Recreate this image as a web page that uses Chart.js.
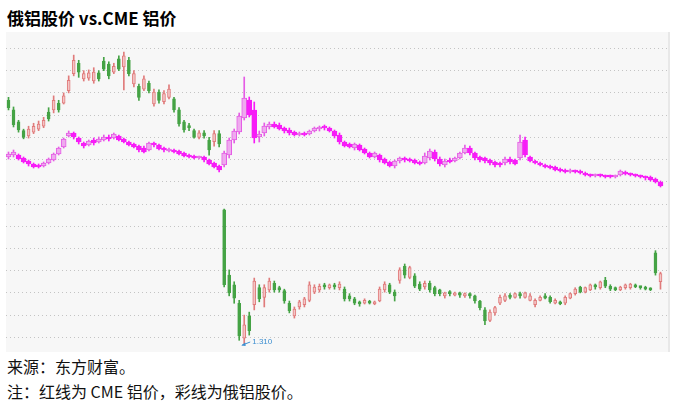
<!DOCTYPE html>
<html>
<head>
<meta charset="utf-8">
<script src="https://cdn.jsdelivr.net/npm/chart.js@4.4.0/dist/chart.umd.min.js"></script>
<style>
  body { margin: 0; width: 675px; height: 406px; position: relative; overflow: hidden; background: #fff; font-family: "Noto Sans CJK SC", sans-serif; color: #000; }
  #title { position: absolute; left: 7px; top: 9px; font-size: 17px; line-height: 17px; font-weight: bold; white-space: nowrap; }
  #plot { position: absolute; left: 6px; top: 32px; width: 662px; height: 320px; background: #f7f7f7; border-right: 2px solid #e8e8e8; }
  .foot { position: absolute; left: 7px; font-size: 16px; line-height: 16px; white-space: nowrap; color: #111; }
</style>
</head>
<body>
<div id="title">俄铝股价 vs.CME 铝价</div>
<div id="plot"><canvas id="chart"></canvas></div>
<div class="foot" style="top:358px">来源：东方财富。</div>
<div class="foot" style="top:383px">注：红线为 CME 铝价，彩线为俄铝股价。</div>

<script>
// 俄铝股价 (港元) 开高低收
const stockOpen = [
  4.60,4.47,4.31,4.19,4.12,4.17,4.21,4.25,4.44,4.47,
  4.56,4.56,4.73,4.96,5.10,4.89,4.90,4.86,4.97,5.13,
  5.09,4.98,5.16,5.05,5.14,4.82,4.79,4.75,4.83,4.55,
  4.71,4.58,4.64,4.62,4.47,4.31,4.25,4.19,4.10,4.16,
  4.06,4.04,4.15,3.12,2.24,2.11,1.86,1.39,1.69,1.84,
  2.07,1.94,2.04,2.13,2.07,2.03,1.86,1.69,1.81,1.84,
  1.90,2.01,2.04,2.11,2.07,2.11,2.07,2.05,1.96,1.92,
  1.88,1.86,1.89,1.85,1.89,2.04,2.11,2.01,2.17,2.36,
  2.21,2.23,2.12,2.08,2.13,2.07,2.04,1.96,2.00,1.97,
  2.00,1.96,1.99,1.96,1.89,1.77,1.63,1.73,1.86,1.90,
  1.96,1.94,1.99,1.94,1.90,1.84,1.90,1.96,1.94,1.86,
  1.88,1.86,1.93,1.99,2.08,2.01,2.04,2.11,2.07,2.17,
  2.09,2.07,2.04,2.07,2.07,2.11,2.08,2.08,2.05,2.54,
  2.15
];
const stockHigh = [
  4.64,4.51,4.33,4.21,4.25,4.29,4.32,4.37,4.50,4.66,
  4.60,4.70,4.93,5.21,5.14,5.00,5.01,5.04,5.00,5.18,
  5.12,5.10,5.20,5.25,5.18,5.00,4.82,4.93,4.86,4.75,
  4.74,4.73,4.81,4.64,4.50,4.33,4.29,4.21,4.19,4.19,
  4.10,4.19,4.19,3.13,2.31,2.15,1.90,1.70,1.74,2.20,
  2.11,2.11,2.20,2.16,2.09,2.05,1.89,1.81,1.90,1.94,
  2.15,2.11,2.12,2.13,2.12,2.13,2.15,2.08,1.99,1.94,
  1.89,1.92,1.90,1.89,2.08,2.15,2.13,2.04,2.34,2.39,
  2.36,2.26,2.15,2.16,2.16,2.09,2.05,2.01,2.03,2.01,
  2.01,2.00,2.00,1.97,1.90,1.80,1.77,1.82,1.97,1.99,
  1.99,2.00,2.01,2.01,1.99,1.92,1.96,1.99,1.96,1.92,
  1.89,1.96,2.00,2.07,2.09,2.08,2.12,2.12,2.16,2.21,
  2.11,2.08,2.09,2.12,2.13,2.12,2.09,2.09,2.07,2.57,
  2.28
];
const stockLow = [
  4.47,4.24,4.17,4.08,4.09,4.15,4.19,4.23,4.32,4.43,
  4.44,4.55,4.70,4.93,4.91,4.86,4.87,4.83,4.86,5.00,
  4.89,4.96,5.00,4.74,4.93,4.78,4.60,4.73,4.70,4.52,
  4.56,4.55,4.62,4.44,4.25,4.17,4.19,4.09,4.08,4.09,
  3.86,3.98,3.97,2.08,1.96,1.86,1.36,1.31,1.43,1.77,
  1.88,1.81,2.01,2.01,2.01,1.86,1.73,1.66,1.78,1.81,
  1.88,1.99,2.01,2.05,2.05,2.05,2.04,1.89,1.89,1.84,
  1.82,1.85,1.85,1.84,1.88,2.01,1.99,1.89,2.13,2.20,
  2.19,2.07,2.03,2.05,2.01,1.96,1.96,1.93,1.96,1.96,
  1.94,1.94,1.93,1.86,1.77,1.57,1.61,1.70,1.84,1.88,
  1.92,1.93,1.93,1.93,1.89,1.81,1.89,1.92,1.86,1.85,
  1.84,1.84,1.92,1.97,2.00,2.00,2.03,2.05,2.05,2.07,
  2.03,2.03,2.03,2.05,2.05,2.07,2.05,2.04,2.03,2.24,
  2.05
];
const stockClose = [
  4.50,4.27,4.20,4.10,4.21,4.25,4.28,4.33,4.35,4.60,
  4.47,4.66,4.87,5.14,4.98,4.96,4.97,4.98,4.89,5.02,
  4.93,5.06,5.02,5.20,4.96,4.96,4.64,4.89,4.73,4.71,
  4.60,4.69,4.75,4.47,4.28,4.20,4.23,4.10,4.16,4.12,
  3.93,4.15,4.01,2.11,2.00,1.93,1.42,1.57,1.49,2.16,
  1.92,2.07,2.16,2.04,2.04,1.89,1.76,1.78,1.88,1.92,
  2.11,2.08,2.09,2.08,2.11,2.08,2.12,1.92,1.92,1.86,
  1.85,1.90,1.86,1.88,2.05,2.12,2.01,1.96,2.31,2.24,
  2.34,2.09,2.05,2.13,2.04,1.99,1.99,2.00,1.99,2.00,
  1.97,1.99,1.96,1.89,1.80,1.62,1.74,1.80,1.94,1.96,
  1.94,1.99,1.96,2.00,1.96,1.90,1.94,1.93,1.88,1.90,
  1.85,1.94,1.99,2.05,2.01,2.07,2.11,2.08,2.15,2.09,
  2.05,2.04,2.08,2.11,2.12,2.08,2.07,2.05,2.04,2.27,
  2.26
];

// CME 铝价 (美元/吨) 开高低收
const cmeOpen = [
  2024,2040,2040,2016,1992,1968,1960,1952,1976,2000,
  2048,2104,2192,2216,2176,2136,2120,2160,2144,2160,
  2184,2176,2192,2168,2144,2128,2112,2096,2080,2136,
  2120,2096,2072,2080,2072,2056,2040,2032,2016,2024,
  2000,1976,1952,1960,2040,2160,2224,2336,2480,2400,
  2184,2216,2264,2288,2280,2256,2240,2224,2200,2216,
  2208,2232,2248,2272,2256,2232,2200,2144,2128,2096,
  2120,2088,2056,2024,2040,2008,1984,1952,1992,2016,
  2008,2000,1984,1976,2016,2064,2008,1960,2000,1992,
  2016,2056,2096,2056,2024,2016,2000,1984,1976,1976,
  2008,2000,2016,2160,2024,1992,1976,1960,1952,1944,
  1928,1920,1904,1912,1912,1896,1880,1872,1880,1872,
  1872,1864,1880,1904,1888,1880,1872,1864,1864,1848,
  1824
];
const cmeHigh = [
  2064,2080,2048,2024,2000,1976,1968,1984,2016,2056,
  2104,2176,2232,2224,2184,2144,2160,2176,2184,2200,
  2200,2216,2200,2176,2152,2136,2120,2112,2144,2144,
  2128,2104,2096,2088,2080,2064,2048,2040,2032,2032,
  2008,1984,1960,2072,2176,2248,2376,2664,2504,2464,
  2232,2296,2304,2304,2296,2264,2256,2232,2224,2224,
  2240,2264,2272,2280,2264,2240,2216,2152,2136,2136,
  2128,2096,2064,2064,2048,2016,1992,2000,2024,2024,
  2016,2008,1992,2056,2088,2080,2024,2008,2016,2024,
  2064,2120,2112,2064,2032,2024,2008,1992,1984,2024,
  2024,2008,2200,2184,2032,2000,1984,1968,1960,1952,
  1936,1928,1928,1920,1920,1904,1888,1888,1888,1880,
  1880,1880,1920,1912,1896,1888,1880,1872,1872,1856,
  1832
];
const cmeLow = [
  2008,2024,2000,1976,1952,1936,1936,1944,1968,1992,
  2040,2096,2184,2168,2128,2096,2112,2120,2136,2152,
  2152,2168,2152,2136,2112,2096,2064,2056,2072,2104,
  2080,2064,2064,2056,2040,2024,2016,2008,2008,1984,
  1960,1936,1904,1944,2016,2136,2208,2320,2344,2136,
  2144,2192,2248,2256,2240,2216,2200,2192,2192,2192,
  2200,2224,2232,2240,2224,2176,2128,2104,2096,2080,
  2072,2048,2016,2016,1984,1968,1944,1936,1976,1984,
  1984,1968,1960,1968,2000,1992,1952,1944,1976,1984,
  2008,2048,2040,2000,1984,1976,1960,1944,1944,1960,
  1968,1960,2000,2024,1984,1968,1952,1936,1928,1912,
  1904,1896,1896,1896,1888,1872,1864,1864,1864,1856,
  1856,1856,1872,1880,1872,1864,1856,1840,1832,1816,
  1784
];
const cmeClose = [
  2048,2064,2008,1984,1968,1944,1944,1976,2008,2048,
  2096,2168,2216,2184,2144,2112,2152,2136,2168,2184,
  2168,2208,2160,2144,2120,2104,2080,2064,2136,2120,
  2088,2080,2088,2064,2048,2032,2024,2016,2024,2000,
  1968,1944,1920,2056,2160,2232,2352,2496,2360,2176,
  2208,2272,2288,2264,2248,2232,2216,2200,2216,2200,
  2232,2256,2264,2256,2232,2192,2144,2112,2104,2128,
  2080,2056,2024,2056,2000,1976,1952,1992,2016,2000,
  1992,1976,1968,2032,2072,2008,1968,1992,1984,2016,
  2056,2096,2056,2016,2000,1992,1976,1960,1960,2008,
  1984,1968,2144,2040,1992,1976,1960,1944,1936,1920,
  1912,1904,1920,1904,1896,1880,1872,1880,1872,1864,
  1864,1872,1912,1888,1880,1872,1864,1856,1840,1824,
  1792
];

// 交易日（最后留一个空位）
const categories = Array.from({ length: stockOpen.length + 1 }, (_, i) => i + 1);
// 网格线位置（港元）
const gridTicks = [1.4, 1.7, 2.0, 2.3, 2.6, 2.9, 3.2, 3.5, 3.8, 4.1, 4.4, 4.7, 5.0, 5.3];

const stockUp = '#f3c6c6', stockUpLine = '#e07b7b', stockDown = '#45a345';
const cmeUp = '#eeaaee', cmeUpLine = '#e55ce5', cmeDown = '#f71cf7';

const pick = (open, close, up, down) => open.map((o, i) => close[i] >= o ? up : down);

// K线实体和影线都用浮动柱子来画
const candleSets = (open, high, low, close, axis, colors, width) => [
  {
    data: open.map((o, i) => [o, close[i]]),
    backgroundColor: pick(open, close, colors.up, colors.down),
    borderColor: pick(open, close, colors.upLine, colors.down),
    borderWidth: 1,
    borderSkipped: false,
    barThickness: width,
    minBarLength: 2,
    grouped: false,
    yAxisID: axis,
    order: 1
  },
  {
    data: low.map((l, i) => [l, high[i]]),
    backgroundColor: pick(open, close, colors.upLine, colors.down),
    barThickness: 1,
    grouped: false,
    yAxisID: axis,
    order: 2
  }
];

// 最低价标注
const lowMarker = {
  id: 'lowMarker',
  afterDatasetsDraw(chart) {
    const { ctx, scales } = chart;
    const low = Math.min(...stockLow);
    const idx = stockLow.indexOf(low);
    const px = scales.x.getPixelForValue(idx);
    const py = scales.y.getPixelForValue(low);
    ctx.save();
    ctx.strokeStyle = '#3d8fd1';
    ctx.fillStyle = '#3d8fd1';
    ctx.lineWidth = 1;
    ctx.beginPath();
    ctx.moveTo(px - 2, py + 1);
    ctx.lineTo(px + 6, py - 2);
    ctx.stroke();
    ctx.beginPath();
    ctx.moveTo(px - 3, py + 1.5);
    ctx.lineTo(px + 1, py - 1.5);
    ctx.lineTo(px + 1.5, py + 2);
    ctx.closePath();
    ctx.fill();
    ctx.font = '8px "Liberation Sans"';
    ctx.textBaseline = 'middle';
    ctx.fillText(low.toFixed(3), px + 8, py - 2);
    ctx.restore();
  }
};

new Chart(document.getElementById('chart'), {
  type: 'bar',
  data: {
    labels: categories,
    datasets: [
      ...candleSets(stockOpen, stockHigh, stockLow, stockClose, 'y',
        { up: stockUp, upLine: stockUpLine, down: stockDown }, 3),
      ...candleSets(cmeOpen, cmeHigh, cmeLow, cmeClose, 'y2',
        { up: cmeUp, upLine: cmeUpLine, down: cmeDown }, 5)
    ]
  },
  options: {
    responsive: true,
    maintainAspectRatio: false,
    animation: false,
    events: [],
    layout: { padding: 0 },
    plugins: { legend: { display: false }, tooltip: { enabled: false } },
    scales: {
      x: { display: false, offset: true },
      y: {
        min: 1.202,
        max: 5.522,
        afterBuildTicks: axis => { axis.ticks = gridTicks.map(v => ({ value: v })); },
        ticks: { display: false },
        grid: { color: '#c4c4c4', lineWidth: 1, drawTicks: false },
        border: { display: false, dash: [1, 3] }
      },
      y2: { display: false, min: 464, max: 3024 }
    }
  },
  plugins: [lowMarker]
});
</script>
</body>
</html>
